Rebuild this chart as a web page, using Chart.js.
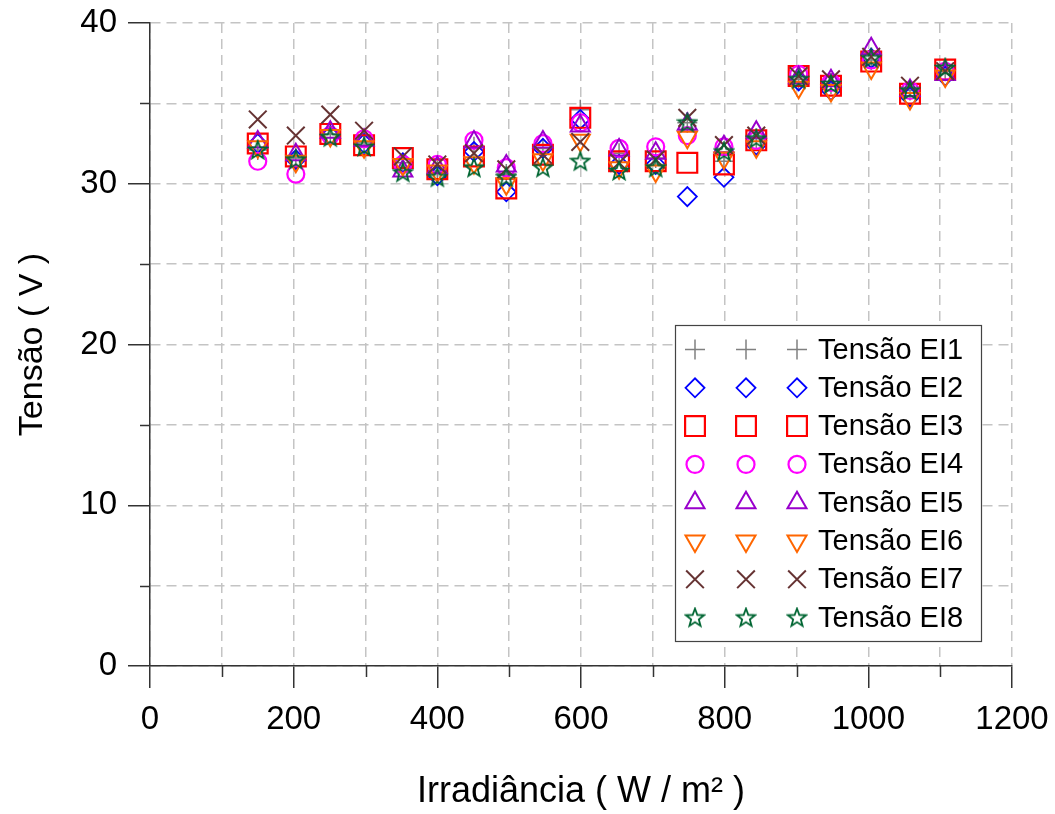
<!DOCTYPE html>
<html lang="pt-BR">
<head>
    <meta charset="UTF-8">
    <title>Tensão x Irradiância</title>
    <script src="https://cdn.jsdelivr.net/npm/chart.js"></script>
    <style>
        body { margin: 0; padding: 0; background: #fff; }
        #wrap { width: 1055px; height: 814px; }
    </style>
</head>
<body>
<div id="wrap"><canvas id="chart" width="1055" height="814"></canvas></div>

<script>
    // irradiância (W/m²) de cada medição
    const irradiancia = [150, 203, 251, 298, 352, 400, 451, 496, 547, 599, 653, 704, 748, 799, 844, 903, 948, 1004, 1058, 1107];

    // tensões (V) lidas por série
    const tensaoEI1 = [32.1, 31.6, 33.1, 32.6, 31.3, 30.8, 32.3, 30.6, 32.2, 34.6, 31.9, 31.6, 33.8, 31.4, 32.8, 36.5, 36.2, 37.7, 35.8, 37.0];
    const tensaoEI2 = [32.5, 31.5, 33.0, 32.5, 31.3, 30.5, 32.0, 29.5, 32.2, 34.0, 31.2, 31.2, 29.2, 30.4, 32.4, 36.4, 35.8, 37.8, 35.4, 36.7];
    const tensaoEI3 = [32.5, 31.7, 33.1, 32.4, 31.6, 30.9, 31.7, 29.7, 31.8, 34.1, 31.4, 31.4, 31.3, 31.2, 32.7, 36.7, 36.1, 37.6, 35.6, 37.1];
    const tensaoEI4 = [31.4, 30.6, 33.0, 32.8, 31.2, 31.2, 32.7, 31.0, 32.5, 33.8, 32.2, 32.3, 33.0, 32.3, 32.7, 36.8, 36.3, 37.7, 35.8, 37.0];
    const tensaoEI5 = [32.6, 31.8, 33.2, 32.7, 30.8, 31.0, 32.6, 31.1, 32.6, 33.6, 32.1, 31.9, 33.7, 32.3, 33.2, 36.6, 36.4, 38.4, 35.8, 36.8];
    const tensaoEI6 = [32.3, 31.4, 33.0, 32.3, 31.2, 30.8, 31.3, 30.0, 31.5, 32.7, 31.0, 30.8, 32.9, 31.6, 32.3, 36.0, 35.8, 37.2, 35.3, 36.7];
    const tensaoEI7 = [34.0, 33.0, 34.3, 33.3, 31.7, 31.2, 31.9, 30.9, 31.8, 32.6, 31.3, 31.5, 34.1, 32.4, 33.0, 36.7, 36.5, 37.9, 36.1, 37.0];
    const tensaoEI8 = [32.1, 31.5, 32.9, 32.3, 30.7, 30.4, 31.0, 30.4, 31.0, 31.4, 30.8, 31.0, 33.8, 32.0, 32.8, 36.5, 36.2, 37.8, 35.8, 37.2];

    const nomes = ['Tensão EI1', 'Tensão EI2', 'Tensão EI3', 'Tensão EI4', 'Tensão EI5', 'Tensão EI6', 'Tensão EI7', 'Tensão EI8'];
    const series = [tensaoEI1, tensaoEI2, tensaoEI3, tensaoEI4, tensaoEI5, tensaoEI6, tensaoEI7, tensaoEI8];

    const xTicks = [0, 200, 400, 600, 800, 1000, 1200];
    const yTicks = [0, 10, 20, 30, 40];

    const FONT = '"Liberation Sans", Arial, sans-serif';

    // estrela vazada (o 'star' do Chart.js é um asterisco)
    function estrela(cor) {
        const c = document.createElement('canvas');
        c.width = 22; c.height = 22;
        const g = c.getContext('2d');
        g.strokeStyle = cor;
        g.lineWidth = 1.8;
        g.beginPath();
        for (let i = 0; i < 10; i++) {
            const r = i % 2 === 0 ? 9.5 : 4;
            const a = -Math.PI / 2 + i * Math.PI / 5;
            const px = 11 + r * Math.cos(a), py = 11.5 + r * Math.sin(a);
            if (i === 0) g.moveTo(px, py); else g.lineTo(px, py);
        }
        g.closePath();
        g.stroke();
        return c;
    }

    // estilo dos marcadores de cada série
    const estilos = [
        { cor: '#808080', style: 'cross',    r: 10,   rot: 0,   w: 1.5 },
        { cor: '#0000ff', style: 'rectRot',  r: 9.5,  rot: 0,   w: 1.8 },
        { cor: '#ff0000', style: 'rect',     r: 14,   rot: 0,   w: 2.2 },
        { cor: '#ff00ff', style: 'circle',   r: 8.5,  rot: 0,   w: 2.2 },
        { cor: '#9900cc', style: 'triangle', r: 11,   rot: 0,   w: 2 },
        { cor: '#ff6600', style: 'triangle', r: 11,   rot: 180, w: 2 },
        { cor: '#663333', style: 'crossRot', r: 12.5, rot: 0,   w: 2 },
        { cor: '#006633', style: estrela('#006633'), r: 10, rot: 0, w: 1.8 }
    ];

    const datasets = series.map((vals, i) => ({
        label: nomes[i],
        data: vals.map((v, k) => ({ x: irradiancia[k], y: v })),
        pointStyle: estilos[i].style,
        pointRadius: estilos[i].r,
        pointHoverRadius: estilos[i].r,
        pointRotation: estilos[i].rot,
        pointBorderWidth: estilos[i].w,
        borderColor: estilos[i].cor,
        backgroundColor: 'rgba(0,0,0,0)',
        showLine: false,
        order: 7 - i
    }));

    // ticks menores dos eixos e caixa de legenda
    const extras = {
        id: 'extras',
        afterDraw(chart) {
            const ctx = chart.ctx;
            const xs = chart.scales.x, ys = chart.scales.y;
            const base = chart.chartArea.bottom, esq = chart.chartArea.left;
            ctx.save();
            ctx.strokeStyle = '#333';
            ctx.lineWidth = 1.5;
            for (let v = 100; v < 1200; v += 200) {
                const px = Math.round(xs.getPixelForValue(v)) + 0.5;
                ctx.beginPath();
                ctx.moveTo(px, base);
                ctx.lineTo(px, base + 11);
                ctx.stroke();
            }
            for (let v = 5; v < 40; v += 10) {
                const py = Math.round(ys.getPixelForValue(v)) + 0.5;
                ctx.beginPath();
                ctx.moveTo(esq, py);
                ctx.lineTo(esq - 10, py);
                ctx.stroke();
            }

            // legenda
            const bx = 675, by = 325, bw = 306, bh = 316;
            ctx.fillStyle = '#fff';
            ctx.fillRect(bx, by, bw, bh);
            ctx.strokeStyle = '#444';
            ctx.lineWidth = 1.2;
            ctx.strokeRect(bx + 0.5, by + 0.5, bw, bh);
            ctx.font = '29px ' + FONT;
            ctx.textBaseline = 'middle';
            ctx.textAlign = 'left';
            estilos.forEach((e, i) => {
                const cy = by + 24.5 + i * 38.3;
                [695, 746, 797].forEach(cx => {
                    ctx.strokeStyle = e.cor;
                    ctx.fillStyle = 'rgba(0,0,0,0)';
                    ctx.lineWidth = e.w;
                    Chart.helpers.drawPoint(ctx, {
                        pointStyle: e.style, radius: e.r, rotation: e.rot, borderWidth: e.w
                    }, cx, cy);
                });
                ctx.fillStyle = '#000';
                ctx.fillText(nomes[i], 818, cy + 1);
            });
            ctx.restore();
        }
    };

    new Chart(document.getElementById('chart'), {
        type: 'scatter',
        data: { datasets: datasets },
        options: {
            responsive: false,
            animation: false,
            layout: { padding: { left: 0, right: 43, top: 23, bottom: 0 } },
            plugins: { legend: { display: false }, tooltip: { enabled: false } },
            scales: {
                x: {
                    type: 'linear',
                    min: 0, max: 1200,
                    afterFit: s => { s.height = 148; s.paddingLeft = 0; s.paddingRight = 0; },
                    afterBuildTicks: s => { s.ticks = []; for (let v = 0; v <= 1200; v += 100) s.ticks.push({ value: v }); },
                    ticks: {
                        autoSkip: false,
                        maxRotation: 0,
                        padding: 12,
                        color: '#000',
                        font: { size: 33, family: FONT },
                        callback: v => xTicks.includes(v) ? String(v) : ''
                    },
                    grid: {
                        color: '#c4c4c4',
                        lineWidth: 1.5,
                        tickLength: 22,
                        tickWidth: 1.5,
                        tickColor: c => (c.tick && xTicks.includes(c.tick.value)) ? '#333' : 'rgba(0,0,0,0)'
                    },
                    border: { color: '#333', width: 1.5, dash: [10, 6] },
                    title: {
                        display: true,
                        text: 'Irradiância ( W / m² )',
                        color: '#000',
                        font: { size: 36, family: FONT },
                        padding: { top: 0, bottom: 0 }
                    }
                },
                y: {
                    min: 0, max: 40,
                    afterFit: s => { s.width = 150; s.paddingTop = 0; s.paddingBottom = 0; },
                    afterBuildTicks: s => { s.ticks = []; for (let v = 0; v <= 40; v += 5) s.ticks.push({ value: v }); },
                    ticks: {
                        autoSkip: false,
                        padding: 11,
                        color: '#000',
                        font: { size: 33, family: FONT },
                        callback: v => yTicks.includes(v) ? String(v) : ''
                    },
                    grid: {
                        color: '#c4c4c4',
                        lineWidth: 1.5,
                        tickLength: 22,
                        tickWidth: 1.5,
                        tickColor: c => (c.tick && yTicks.includes(c.tick.value)) ? '#333' : 'rgba(0,0,0,0)'
                    },
                    border: { color: '#333', width: 1.5, dash: [10, 6] },
                    title: {
                        display: true,
                        text: 'Tensão ( V )',
                        color: '#000',
                        font: { size: 34, family: FONT },
                        padding: { top: 12, bottom: 0 }
                    }
                }
            }
        },
        plugins: [extras]
    });
</script>
</body>
</html>
